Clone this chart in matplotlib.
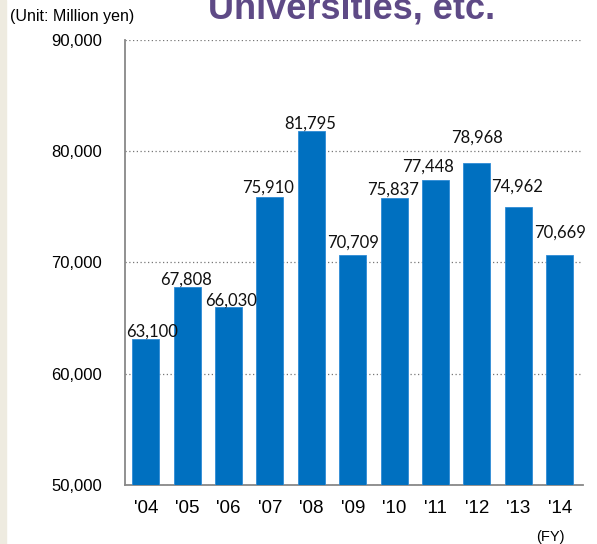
import matplotlib
matplotlib.use("Agg")
import matplotlib.pyplot as plt
from matplotlib.patches import Rectangle

# data
years = ["'04", "'05", "'06", "'07", "'08", "'09", "'10", "'11", "'12", "'13", "'14"]
amounts = [63100, 67808, 66030, 75910, 81795, 70709, 75837, 77448, 78968, 74962, 70669]
yticks = [50000, 60000, 70000, 80000, 90000]

# label nudges (in pixels) as placed in the original
lab_dx = [6.5, -1, 2.5, -2, -1.5, 0, -1.5, -7.5, 0, -1, 0.5]
lab_dy = [3, 2, 1, 4, 3, 7, 3, 8, 20, 16, 17]

fig = plt.figure(figsize=(5.97, 5.44), dpi=100)
fig.patches.append(Rectangle((0, 0), 6 / 597, 1, transform=fig.transFigure,
                             color="#EEEBE0", zorder=0))

ax = fig.add_axes([125 / 597, 1 - 485 / 544, 457.5 / 597, 445 / 544])
x = range(len(years))
ax.bar(x, amounts, width=0.655, color="#0070C0", edgecolor="#2E8BD6",
       linewidth=0.6, zorder=3)

for xi, v, dx, dy in zip(x, amounts, lab_dx, lab_dy):
    ax.annotate(f"{v:,}", (xi, v), xytext=(dx * 0.72, dy * 0.72),
                textcoords="offset points", ha="center", va="baseline",
                fontsize=12, family="Lato", color="#111111", zorder=4)

ax.set_ylim(50000, 90000)
ax.set_xlim(-0.5, 10.55)
ax.set_yticks(yticks)
ax.set_yticklabels([f"{t:,}" for t in yticks], fontsize=12, family="Liberation Sans")
ax.set_xticks(list(x))
ax.set_xticklabels(years, fontsize=13.5, family="Liberation Sans")
ax.tick_params(axis="both", length=0)
ax.tick_params(axis="y", pad=16.5)
ax.tick_params(axis="x", pad=11)

ax.grid(axis="y", linestyle=(0, (1, 2)), color="#777777", linewidth=0.9, zorder=0)
ax.set_axisbelow(True)
for s in ["top", "right"]:
    ax.spines[s].set_visible(False)
for s in ["left", "bottom"]:
    ax.spines[s].set_color("#888888")
    ax.spines[s].set_linewidth(1.3)

fig.text(10 / 597, 1 - 17 / 544, "(Unit: Million yen)", fontsize=11.5,
         family="Liberation Sans", va="center", ha="left")
fig.text(352 / 597, 1 - 18.5 / 544, "Universities, etc.", fontsize=26,
         fontweight="bold", family="Liberation Sans", color="#5E4A86",
         ha="center", va="baseline")
fig.text(550 / 597, 1 - 537 / 544, "(FY)", fontsize=10.5,
         family="Liberation Sans", ha="center", va="center")

fig.savefig("out.png", dpi=100)
